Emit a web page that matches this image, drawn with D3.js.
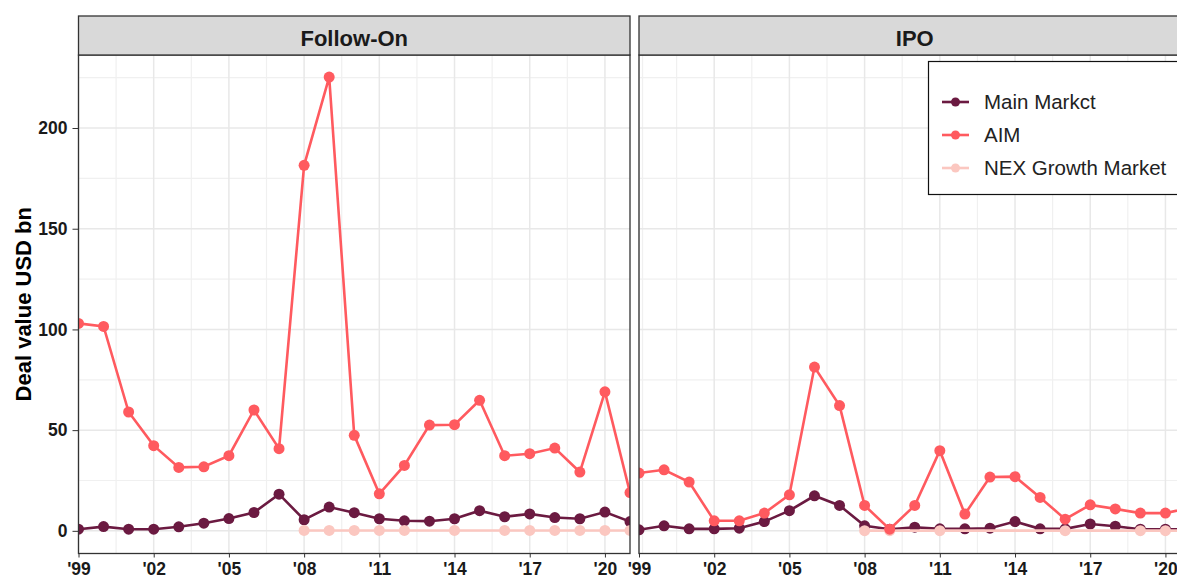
<!DOCTYPE html>
<html>
<head>
<meta charset="utf-8">
<script src="https://cdn.jsdelivr.net/npm/d3@7"></script>
<style>
  body { margin: 0; background: #fff; }
  text { font-family: "Liberation Sans", Arial, sans-serif; }
</style>
</head>
<body>
<svg></svg>
<script>
// colours
var mainCol = "#6b1a41"
var aimCol = "#ff5a5f"
var nexCol = "#fbc7c0"

var svgWidth = 1177, svgHeight = 579;
var svg = d3.select("svg")
    .attr("width", svgWidth)
    .attr("height", svgHeight);

// data
var years = [1999, 2000, 2001, 2002, 2003, 2004, 2005, 2006, 2007, 2008, 2009, 2010,
             2011, 2012, 2013, 2014, 2015, 2016, 2017, 2018, 2019, 2020, 2021];
var xTicks = [1999, 2002, 2005, 2008, 2011, 2014, 2017, 2020];
var yTicks = [0, 50, 100, 150, 200];
var yMinor = [25, 75, 125, 175, 225];

var followOnMain = [0.8, 2.1, 0.8, 0.8, 2, 3.8, 6.1, 9.1, 18.2, 5.5, 11.8, 9,
                    6, 5, 4.8, 6, 10, 7, 8.4, 6.6, 6, 9.3, 4.6];
var followOnAim = [103, 101.5, 59, 42.3, 31.5, 31.8, 37.3, 60, 40.8, 181.5, 225.3, 47.4,
                   18.4, 32.5, 52.5, 52.7, 64.8, 37.3, 38.3, 41.1, 29.2, 69, 19];
var followOnNexYears = [2008, 2009, 2010, 2011, 2012, 2014, 2016, 2017, 2018, 2019, 2020, 2021];
var followOnNex = [0.2, 0.2, 0.2, 0.2, 0.2, 0.2, 0.2, 0.2, 0.2, 0.2, 0.2, 0.2];

var ipoMain = [0.5, 2.5, 1, 1, 1.3, 4.6, 10, 17.4, 12.6, 2.5, 0.8, 1.8,
               1, 1, 1.3, 4.6, 1, 1, 3.4, 2.3, 0.8, 0.8, 0.8];
var ipoAim = [28.7, 30.3, 24.2, 5, 5, 8.8, 17.9, 81.3, 62.2, 12.6, 0.8, 12.6,
              39.8, 8.3, 26.7, 26.9, 16.6, 5.8, 12.9, 10.9, 8.8, 8.8, 11.5];
var ipoNexYears = [2008, 2009, 2011, 2016, 2019, 2020, 2021];
var ipoNex = [0.1, 0.1, 0.1, 0.1, 0.1, 0.1, 0.1];

var seriesNames = ["Main Markct", "AIM", "NEX Growth Market"];
var seriesCols = [mainCol, aimCol, nexCol];

var panels = [
    {title: "Follow-On", x0: 78.5, main: followOnMain, aim: followOnAim, nexY: followOnNexYears, nex: followOnNex},
    {title: "IPO", x0: 639, main: ipoMain, aim: ipoAim, nexY: ipoNexYears, nex: ipoNex}
];
var panelW = 551.5;
var panelTop = 55, panelBottom = 553.5, stripTop = 16;

var yScale = d3.scaleLinear()
    .domain([-11.25, 236.25])
    .range([panelBottom, panelTop]);

function pairs(xs, ys) {
    return xs.map(function(x, i) { return [x, ys[i]]; });
}

panels.forEach(function(p, idx) {
    var xScale = d3.scaleLinear()
        .domain([1999, 2021])
        .range([p.x0, p.x0 + panelW]);

    var g = svg.append("g");
    var clipId = "clip" + idx;
    g.append("clipPath").attr("id", clipId)
        .append("rect")
        .attr("x", p.x0).attr("y", panelTop)
        .attr("width", panelW).attr("height", panelBottom - panelTop);

    // grid
    var grid = g.append("g");
    yMinor.forEach(function(v) {
        grid.append("line")
            .attr("x1", p.x0).attr("x2", p.x0 + panelW)
            .attr("y1", yScale(v)).attr("y2", yScale(v))
            .attr("stroke", "#f0f0f0").attr("stroke-width", 1.2);
    });
    xTicks.forEach(function(v) {
        grid.append("line")
            .attr("x1", xScale(v + 1.5)).attr("x2", xScale(v + 1.5))
            .attr("y1", panelTop).attr("y2", panelBottom)
            .attr("stroke", "#f0f0f0").attr("stroke-width", 1.2);
    });
    yTicks.forEach(function(v) {
        grid.append("line")
            .attr("x1", p.x0).attr("x2", p.x0 + panelW)
            .attr("y1", yScale(v)).attr("y2", yScale(v))
            .attr("stroke", "#e8e8e8").attr("stroke-width", 1.5);
    });
    xTicks.forEach(function(v) {
        grid.append("line")
            .attr("x1", xScale(v)).attr("x2", xScale(v))
            .attr("y1", panelTop).attr("y2", panelBottom)
            .attr("stroke", "#e8e8e8").attr("stroke-width", 1.5);
    });

    // series
    var line = d3.line()
        .x(function(d) { return xScale(d[0]); })
        .y(function(d) { return yScale(d[1]); });
    var data = [pairs(years, p.main), pairs(p.nexY, p.nex), pairs(years, p.aim)];
    var cols = [mainCol, nexCol, aimCol];
    var plot = g.append("g").attr("clip-path", "url(#" + clipId + ")");
    data.forEach(function(d, i) {
        plot.append("path")
            .attr("d", line(d))
            .attr("fill", "none")
            .attr("stroke", cols[i])
            .attr("stroke-width", 2.6);
        plot.selectAll(null)
            .data(d)
            .enter().append("circle")
            .attr("cx", function(v) { return xScale(v[0]); })
            .attr("cy", function(v) { return yScale(v[1]); })
            .attr("r", 5.5)
            .attr("fill", cols[i]);
    });

    // panel border
    g.append("rect")
        .attr("x", p.x0).attr("y", panelTop)
        .attr("width", panelW).attr("height", panelBottom - panelTop)
        .attr("fill", "none").attr("stroke", "#333").attr("stroke-width", 1.3);

    // strip
    g.append("rect")
        .attr("x", p.x0).attr("y", stripTop)
        .attr("width", panelW).attr("height", panelTop - stripTop)
        .attr("fill", "#d9d9d9").attr("stroke", "#333").attr("stroke-width", 1.3);
    g.append("text")
        .attr("x", p.x0 + panelW / 2).attr("y", 45.5)
        .attr("text-anchor", "middle")
        .attr("font-size", 22).attr("font-weight", "bold")
        .attr("fill", "#1a1a1a")
        .text(p.title);

    // x axis
    var xAxis = d3.axisBottom(xScale)
        .tickValues(xTicks)
        .tickSize(4)
        .tickPadding(5)
        .tickFormat(function(d) { return "'" + String(d).slice(2); });
    var ax = g.append("g")
        .attr("transform", "translate(0," + panelBottom + ")")
        .call(xAxis);
    ax.select(".domain").remove();
    ax.selectAll("line").attr("stroke", "#333");
    ax.selectAll("text")
        .attr("font-size", 17.5).attr("font-weight", "bold")
        .attr("fill", "#1a1a1a")
        .style("font-family", "'Liberation Sans', Arial, sans-serif");
});

// y axis (left panel only)
var yAxis = d3.axisLeft(yScale)
    .tickValues(yTicks)
    .tickSize(6)
    .tickPadding(5);
var ay = svg.append("g")
    .attr("transform", "translate(" + panels[0].x0 + ",0)")
    .call(yAxis);
ay.select(".domain").remove();
ay.selectAll("line").attr("stroke", "#333");
ay.selectAll("text")
    .attr("font-size", 17.5).attr("font-weight", "bold")
    .attr("fill", "#1a1a1a")
    .style("font-family", "'Liberation Sans', Arial, sans-serif");

svg.append("text")
    .attr("transform", "translate(31," + (panelTop + panelBottom) / 2 + ") rotate(-90)")
    .attr("text-anchor", "middle")
    .attr("font-size", 22).attr("font-weight", "bold")
    .attr("fill", "#000")
    .text("Deal value USD bn");

// legend
var lg = svg.append("g");
lg.append("rect")
    .attr("x", 928.5).attr("y", 61.5)
    .attr("width", 270).attr("height", 133)
    .attr("fill", "#fff").attr("stroke", "#111").attr("stroke-width", 1.2);
seriesNames.forEach(function(name, i) {
    var y = 102 + i * 33;
    lg.append("line")
        .attr("x1", 942).attr("x2", 969)
        .attr("y1", y).attr("y2", y)
        .attr("stroke", seriesCols[i]).attr("stroke-width", 2.6);
    lg.append("circle")
        .attr("cx", 955.5).attr("cy", y).attr("r", 4.5)
        .attr("fill", seriesCols[i]);
    lg.append("text")
        .attr("x", 984).attr("y", y + 7)
        .attr("font-size", 20.5)
        .attr("fill", "#222")
        .text(name);
});
</script>
</body>
</html>
